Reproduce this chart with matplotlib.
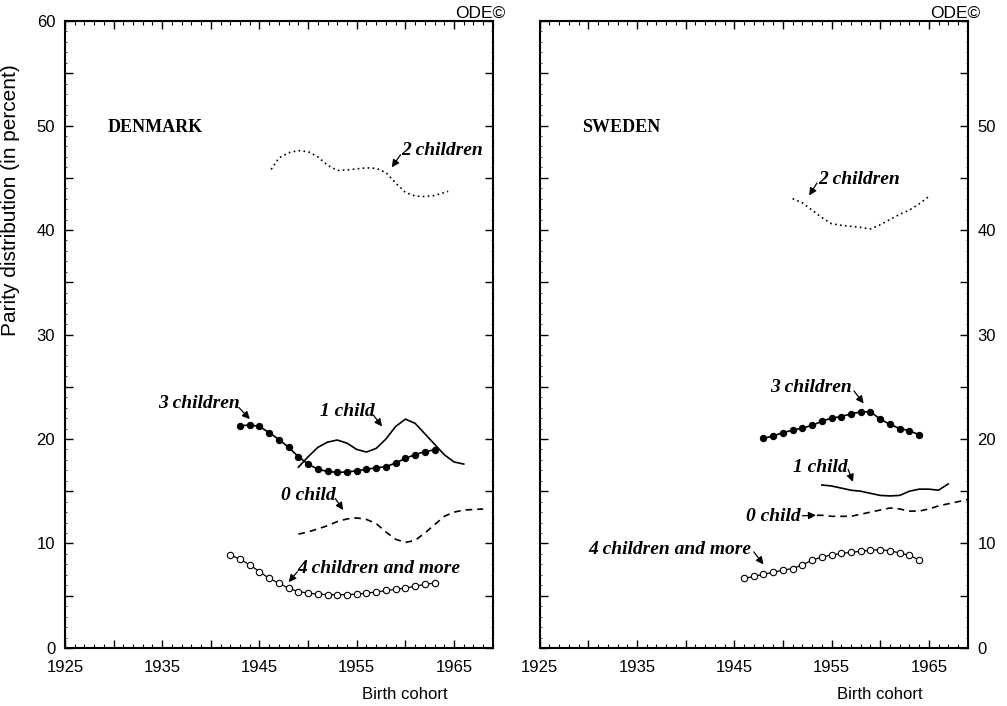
import numpy as np
import matplotlib
matplotlib.use("Agg")
import matplotlib.pyplot as plt
from matplotlib.ticker import MultipleLocator

plt.rcParams['font.family'] = ['Liberation Sans', 'DejaVu Sans']

# ---- Denmark ----
dk_yr_3 = list(range(1943, 1964))
dk_3 = [21.25, 21.35, 21.2, 20.6, 19.95, 19.2, 18.3, 17.6, 17.1, 16.9, 16.8,
        16.85, 16.95, 17.1, 17.25, 17.35, 17.7, 18.15, 18.5, 18.8, 18.95]
dk_yr_4 = list(range(1942, 1964))
dk_4 = [8.9, 8.5, 7.95, 7.3, 6.65, 6.2, 5.7, 5.4, 5.25, 5.15, 5.1, 5.1, 5.1,
        5.15, 5.25, 5.35, 5.5, 5.6, 5.75, 5.9, 6.1, 6.2]
dk_yr_2 = [1946.2, 1947, 1948, 1949, 1950, 1951, 1952, 1953, 1954, 1955, 1956,
           1957, 1958, 1959, 1960, 1961, 1962, 1963, 1964.4]
dk_2 = [45.8, 46.9, 47.4, 47.6, 47.5, 47.0, 46.2, 45.7, 45.75, 45.85, 45.95,
        45.9, 45.5, 44.5, 43.6, 43.25, 43.2, 43.3, 43.7]
dk_yr_1 = list(range(1949, 1967))
dk_1 = [17.3, 18.3, 19.2, 19.7, 19.9, 19.6, 19.0, 18.75, 19.1, 20.0, 21.2,
        21.9, 21.5, 20.5, 19.5, 18.5, 17.8, 17.6]
dk_yr_0 = list(range(1949, 1969))
dk_0 = [10.9, 11.1, 11.4, 11.7, 12.1, 12.35, 12.45, 12.3, 11.9, 11.1, 10.4,
        10.1, 10.3, 11.0, 11.8, 12.6, 13.0, 13.2, 13.25, 13.3]

# ---- Sweden ----
se_yr_3 = list(range(1948, 1965))
se_3 = [20.05, 20.3, 20.6, 20.85, 21.05, 21.3, 21.7, 22.0, 22.15, 22.4, 22.6,
        22.6, 21.9, 21.4, 21.0, 20.8, 20.4]
se_yr_4 = list(range(1946, 1965))
se_4 = [6.65, 6.85, 7.05, 7.25, 7.45, 7.6, 7.95, 8.4, 8.7, 8.9, 9.05, 9.15,
        9.25, 9.35, 9.4, 9.3, 9.1, 8.85, 8.45]
se_yr_2 = list(range(1951, 1966))
se_2 = [43.0, 42.6, 41.9, 41.2, 40.6, 40.45, 40.35, 40.25, 40.1, 40.5, 41.0,
        41.5, 41.9, 42.5, 43.2]
se_yr_1 = list(range(1954, 1968))
se_1 = [15.6, 15.5, 15.3, 15.1, 15.0, 14.8, 14.6, 14.55, 14.6, 15.0, 15.2,
        15.2, 15.1, 15.7]
se_yr_0 = [1953.5] + list(range(1954, 1970))
se_0 = [12.7, 12.7, 12.6, 12.6, 12.6, 12.8, 13.0, 13.2, 13.4, 13.3, 13.1,
        13.1, 13.3, 13.6, 13.8, 14.0, 14.2]

year_ticks = [1925, 1935, 1945, 1955, 1965]

fig = plt.figure(figsize=(10.07, 7.06), dpi=100)
ax1 = fig.add_axes([0.0645, 0.0822, 0.425, 0.888])
ax2 = fig.add_axes([0.536, 0.0822, 0.425, 0.888])

lab_font = dict(family='Liberation Serif', fontsize=14, fontweight='bold', style='italic')
arrow = dict(arrowstyle='-|>', lw=0.9, color='black', mutation_scale=11, shrinkA=0, shrinkB=0)


def label(ax, text, pos, tail, tip, ha='left'):
    ax.text(pos[0], pos[1], text, ha=ha, va='center', **lab_font)
    ax.annotate('', xy=tip, xytext=tail, arrowprops=arrow)


def style_axes(ax, left_labels):
    ax.set_xlim(1925, 1969)
    ax.set_ylim(0, 60)
    ax.xaxis.set_minor_locator(MultipleLocator(1))
    ax.yaxis.set_minor_locator(MultipleLocator(1))
    ax.set_xticks(np.arange(1925, 1970, 5))
    ax.set_xticklabels([str(y) if y in year_ticks else '' for y in range(1925, 1970, 5)])
    ax.set_yticks(np.arange(0, 61, 5))
    ax.tick_params(which='major', direction='in', length=6, width=1, top=True, right=True,
                   labelsize=12)
    ax.tick_params(which='minor', direction='in', length=3, width=0.8, top=True, right=True)
    ax.tick_params(axis='y', which='minor', length=1.5, width=0.5)
    ax.tick_params(axis='x', pad=9)
    ax.tick_params(axis='y', pad=7)
    if left_labels:
        ax.set_yticklabels([str(v) if v % 10 == 0 else '' for v in range(0, 61, 5)])
    else:
        ax.tick_params(axis='y', labelleft=False, labelright=True)
        ax.set_yticklabels([str(v) if v % 10 == 0 and v < 60 else '' for v in range(0, 61, 5)])
    for s in ax.spines.values():
        s.set_linewidth(1.5)
    ax.set_xlabel('Birth cohort', fontsize=12)
    ax.xaxis.set_label_coords(0.795, -0.062)
    ax.text(1.03, 1.013, 'ODE\u00a9', transform=ax.transAxes, ha='right', va='center',
            fontsize=12.5)


def draw_country(ax, name, yr2, v2, yr1, v1, yr0, v0, yr3, v3, yr4, v4):
    ax.plot(yr2, v2, color='black', lw=1.2, ls=(0, (1, 2)))
    ax.plot(yr1, v1, color='black', lw=1.2)
    ax.plot(yr0, v0, color='black', lw=1.2, ls=(0, (4, 3)))
    ax.plot(yr3, v3, color='black', lw=1.2, marker='o', ms=4.3)
    ax.plot(yr4, v4, color='black', lw=0.9, marker='o', ms=4.6, mfc='white', mew=0.8)
    ax.text(1929.4, 49.8, name, family='Liberation Serif', fontsize=13, fontweight='bold',
            va='center')


# Denmark panel
draw_country(ax1, 'DENMARK', dk_yr_2, dk_2, dk_yr_1, dk_1, dk_yr_0, dk_0,
             dk_yr_3, dk_3, dk_yr_4, dk_4)
label(ax1, '2 children', (1959.6, 47.6), (1959.5, 47.2), (1958.6, 46.0))
label(ax1, '3 children', (1934.6, 23.4), (1942.9, 23.0), (1944.0, 21.9))
label(ax1, '1 child', (1951.2, 22.6), (1956.7, 22.3), (1957.6, 21.2))
label(ax1, '0 child', (1947.2, 14.6), (1952.8, 14.3), (1953.6, 13.2))
label(ax1, '4 children and more', (1948.9, 7.6), (1948.9, 7.3), (1948.0, 6.3))
ax1.set_ylabel('Parity distribution (in percent)', fontsize=15)
ax1.yaxis.set_label_coords(-0.105, 0.715)
style_axes(ax1, True)

# Sweden panel
draw_country(ax2, 'SWEDEN', se_yr_2, se_2, se_yr_1, se_1, se_yr_0, se_0,
             se_yr_3, se_3, se_yr_4, se_4)
label(ax2, '2 children', (1953.6, 44.8), (1953.5, 44.5), (1952.7, 43.3))
label(ax2, '3 children', (1948.7, 24.9), (1957.3, 24.6), (1958.3, 23.4))
label(ax2, '1 child', (1951.0, 17.3), (1956.7, 17.1), (1957.2, 15.9))
label(ax2, '0 child', (1946.2, 12.6), (1952.0, 12.65), (1953.4, 12.7))
label(ax2, '4 children and more', (1946.8, 9.4), (1947.0, 9.2), (1948.0, 8.0), ha='right')
style_axes(ax2, False)

fig.savefig('out.png', dpi=100)
